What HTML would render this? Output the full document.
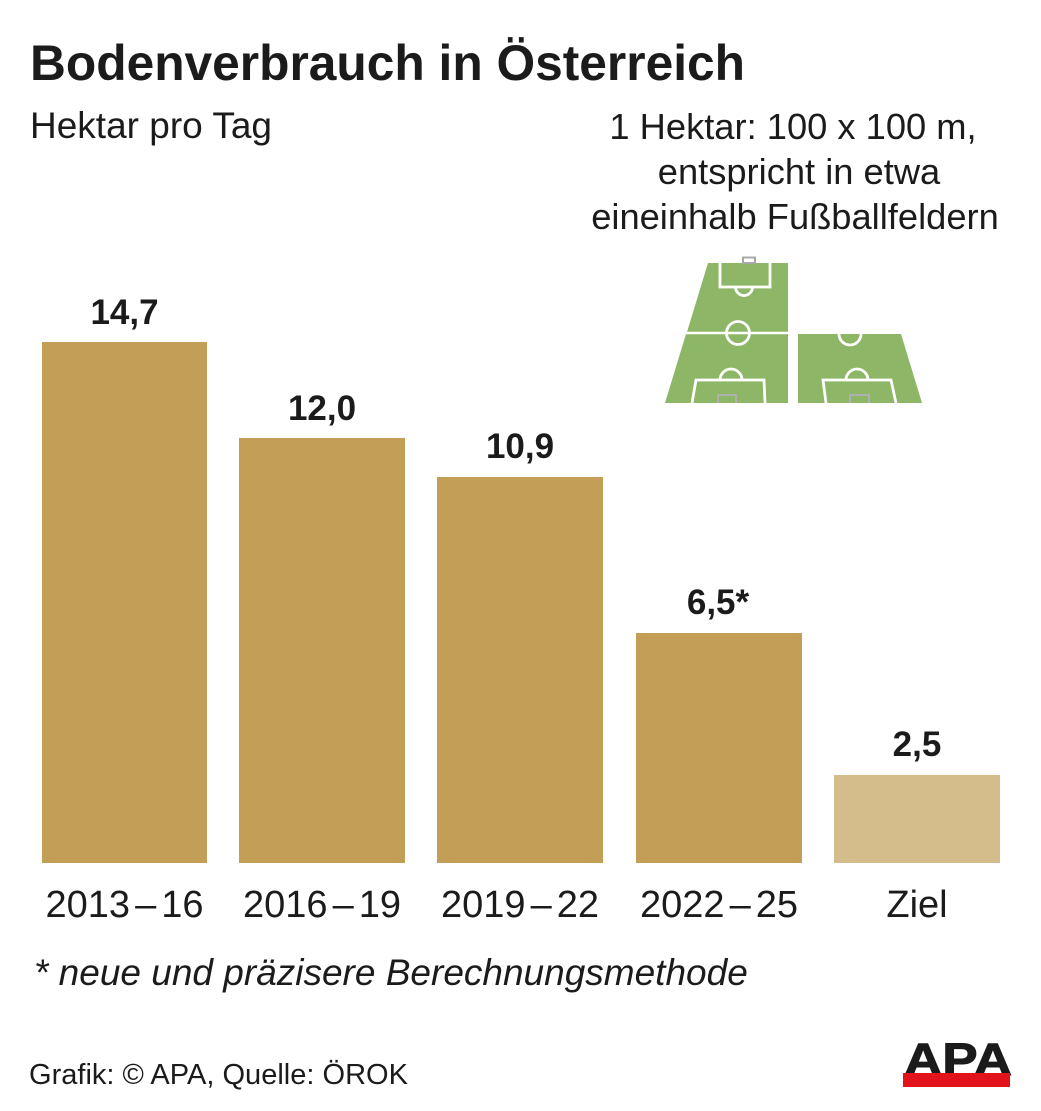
<!DOCTYPE html>
<html>
<head>
<meta charset="utf-8">
<style>
  html, body { margin:0; padding:0; background:#fff; }
  body { width:1041px; height:1111px; overflow:hidden; }
  svg { display:block; }
  text { font-family: "Liberation Sans", Arial, sans-serif; fill:#1b1b1b; }
</style>
</head>
<body>
<svg width="1041" height="1111" viewBox="0 0 1041 1111" xmlns="http://www.w3.org/2000/svg">
  <rect x="0" y="0" width="1041" height="1111" fill="#ffffff"/>

  <!-- Title -->
  <text x="30" y="80" font-size="50" font-weight="bold" textLength="715" lengthAdjust="spacingAndGlyphs">Bodenverbrauch in Österreich</text>
  <text x="30" y="138" font-size="37">Hektar pro Tag</text>

  <!-- Annotation -->
  <text x="793" y="139" font-size="36.3" text-anchor="middle">1 Hektar: 100 x 100 m,</text>
  <text x="799" y="184" font-size="36.3" text-anchor="middle">entspricht in etwa</text>
  <text x="795" y="229" font-size="36.3" text-anchor="middle">eineinhalb Fußballfeldern</text>

  <!-- Football fields -->
  <g>
    <polygon points="708,263 788,263 788,332 687,332" fill="#8db666"/>
    <polygon points="686,334 788,334 788,403 665,403" fill="#8db666"/>
    <polygon points="798,334 901,334 922,403 798,403" fill="#8db666"/>
    <line x1="684" y1="333" x2="790" y2="333" stroke="#fff" stroke-width="2.5"/>
    <path d="M720,263 V287 H770 V263" fill="none" stroke="#fff" stroke-width="2.8"/>
    <path d="M735.5,287 A8.5,8.5 0 0 0 752.5,287" fill="none" stroke="#fff" stroke-width="2.8"/>
    <rect x="743" y="257.5" width="12" height="5.5" fill="#fff" stroke="#a8a8a8" stroke-width="2"/>
    <circle cx="738" cy="333" r="11.5" fill="none" stroke="#fff" stroke-width="2.8"/>
    <path d="M692,403 L696,380 L764,380 L765,403" fill="none" stroke="#fff" stroke-width="2.8"/>
    <path d="M720,380 A11,11 0 0 1 742,380" fill="none" stroke="#fff" stroke-width="2.8"/>
    <path d="M718,403 V395 H736 V403" fill="none" stroke="#b0b0b0" stroke-width="2"/>
    <path d="M839,334 A11,11 0 0 0 861,334" fill="none" stroke="#fff" stroke-width="2.8"/>
    <path d="M826,403 L823,380 L891,380 L896,403" fill="none" stroke="#fff" stroke-width="2.8"/>
    <path d="M846,380 A11,11 0 0 1 868,380" fill="none" stroke="#fff" stroke-width="2.8"/>
    <path d="M850,403 V395 H869 V403" fill="none" stroke="#b0b0b0" stroke-width="2"/>
  </g>

  <!-- Bars -->
  <rect x="42"  y="342" width="165" height="521" fill="#c39e57"/>
  <rect x="239" y="438" width="166" height="425" fill="#c39e57"/>
  <rect x="437" y="477" width="166" height="386" fill="#c39e57"/>
  <rect x="636" y="633" width="166" height="230" fill="#c39e57"/>
  <rect x="834" y="775" width="166" height="88"  fill="#d4bd8b"/>

  <!-- Value labels -->
  <text x="124.5" y="324" font-size="35" font-weight="bold" text-anchor="middle">14,7</text>
  <text x="322"   y="420" font-size="35" font-weight="bold" text-anchor="middle">12,0</text>
  <text x="520"   y="458" font-size="35" font-weight="bold" text-anchor="middle">10,9</text>
  <text x="718"   y="614" font-size="35" font-weight="bold" text-anchor="middle">6,5*</text>
  <text x="917"   y="756" font-size="35" font-weight="bold" text-anchor="middle">2,5</text>

  <!-- Category labels -->
  <text x="124.5" y="917" font-size="38" text-anchor="middle">2013<tspan dx="5">–</tspan><tspan dx="5">16</tspan></text>
  <text x="322"   y="917" font-size="38" text-anchor="middle">2016<tspan dx="5">–</tspan><tspan dx="5">19</tspan></text>
  <text x="520"   y="917" font-size="38" text-anchor="middle">2019<tspan dx="5">–</tspan><tspan dx="5">22</tspan></text>
  <text x="719"   y="917" font-size="38" text-anchor="middle">2022<tspan dx="5">–</tspan><tspan dx="5">25</tspan></text>
  <text x="917"   y="917" font-size="38" text-anchor="middle">Ziel</text>

  <!-- Footnote -->
  <text x="34" y="985" font-size="37" font-style="italic">* neue und präzisere Berechnungsmethode</text>

  <!-- Footer -->
  <text x="29" y="1084" font-size="28.5" textLength="379" lengthAdjust="spacingAndGlyphs">Grafik: © APA, Quelle: ÖROK</text>

  <!-- APA logo -->
  <text x="904" y="1075" font-size="45" font-weight="bold" textLength="108" lengthAdjust="spacingAndGlyphs" fill="#1a1a1a" stroke="#1a1a1a" stroke-width="1">APA</text>
  <rect x="903" y="1073" width="107" height="14" fill="#e3131b"/>
</svg>
</body>
</html>
